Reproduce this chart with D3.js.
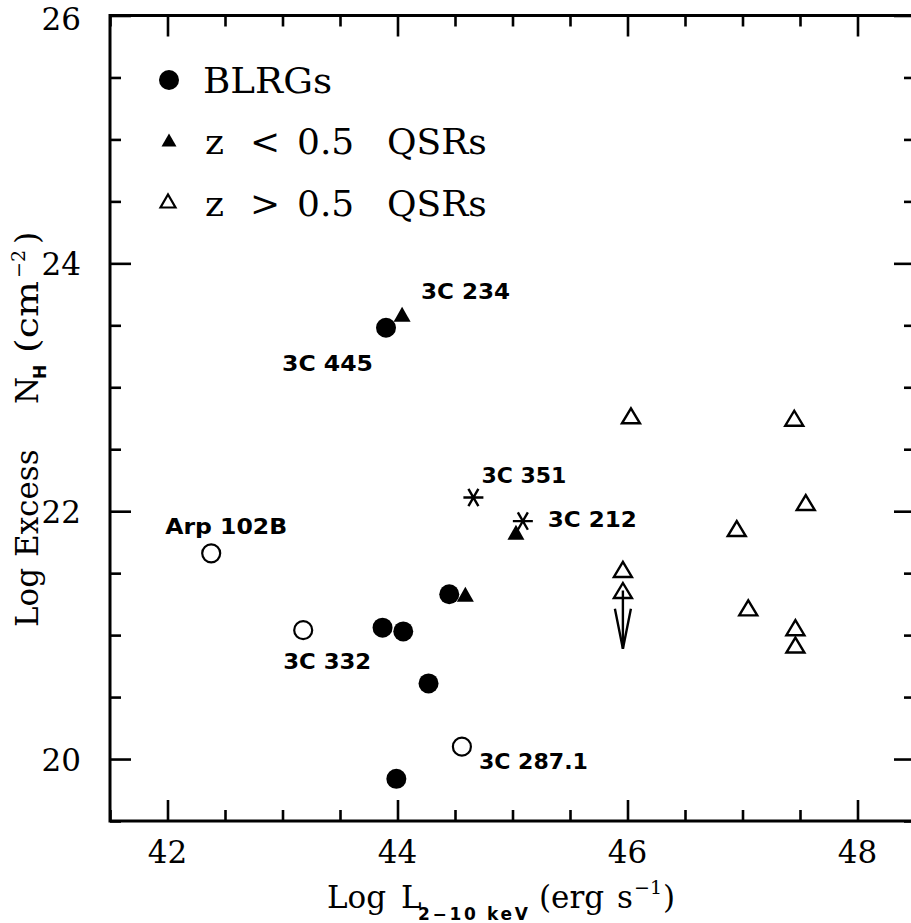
<!DOCTYPE html>
<html>
<head>
<meta charset="utf-8">
<script src="https://cdn.jsdelivr.net/npm/d3@7"></script>
<style>
  html, body { margin: 0; padding: 0; background: #fff; }
  svg { display: block; }
</style>
</head>
<body>
<div id="chart"></div>
<script>
// ---------------- data ----------------
const blrgX = [43.90, 43.87, 44.05, 44.45, 44.27, 43.99];
const blrgY = [23.48, 21.06, 21.03, 21.33, 20.61, 19.84];

const openCircleNames = ["Arp 102B", "3C 332", "3C 287.1"];
const openCircleX = [42.38, 43.18, 44.56];
const openCircleY = [21.66, 21.04, 20.10];

const qsrLowX = [44.04, 44.59, 45.03];
const qsrLowY = [23.59, 21.33, 21.83];

const starNames = ["3C 351", "3C 212"];
const starX = [44.66, 45.09];
const starY = [22.11, 21.92];

const qsrHighX = [46.03, 47.45, 47.55, 46.95, 45.96, 45.96, 47.05, 47.46, 47.46];
const qsrHighY = [22.77, 22.75, 22.07, 21.86, 21.53, 21.36, 21.22, 21.06, 20.92];

// upper limit arrow (from the z>0.5 QSR at index 5)
const limitX = [45.96];
const limitFrom = [21.36];
const limitTo = [20.89];

const xMajorTicks = [42, 44, 46, 48];
const yMajorTicks = [20, 22, 24, 26];

const legendLabels = ["BLRGs", "z < 0.5 QSRs", "z > 0.5 QSRs"];

// annotations: label text, anchor point, pixel offset of text start
const annotations = [
  {text: "3C 234",   x: qsrLowX[0],      y: qsrLowY[0],      dx: 19,   dy: -15},
  {text: "3C 445",   x: blrgX[0],        y: blrgY[0],        dx: -104, dy: 43},
  {text: "3C 351",   x: starX[0],        y: starY[0],        dx: 8,    dy: -15},
  {text: "3C 212",   x: starX[1],        y: starY[1],        dx: 25,   dy: 6},
  {text: "Arp 102B", x: openCircleX[0],  y: openCircleY[0],  dx: -46,  dy: -19},
  {text: "3C 332",   x: openCircleX[1],  y: openCircleY[1],  dx: -20,  dy: 39},
  {text: "3C 287.1", x: openCircleX[2],  y: openCircleY[2],  dx: 17,   dy: 22}
];
const annotationWidths = {"3C 234": 89, "3C 445": 91, "3C 351": 85, "3C 212": 89,
                          "Arp 102B": 122, "3C 332": 88, "3C 287.1": 109};

// ---------------- layout ----------------
const W = 911, H = 923;
const L = 110, R = 915, T = 15.5, B = 821;

const svg = d3.select("#chart").append("svg")
  .attr("width", W).attr("height", H)
  .attr("viewBox", `0 0 ${W} ${H}`);

const x = d3.scaleLinear().domain([41.5, 48.5]).range([L, R]);
const y = d3.scaleLinear().domain([19.5, 26]).range([B, T]);

const SERIF = "'DejaVu Serif', serif";
const SANSB = "'DejaVu Sans', sans-serif";

// frame
svg.append("rect").attr("x", L).attr("y", T)
  .attr("width", R - L).attr("height", B - T)
  .attr("fill", "none").attr("stroke", "#000").attr("stroke-width", 3);

// ticks via d3 axes (inward), on all four sides
const xMinor = d3.range(41.5, 48.51, 0.5).filter(v => !xMajorTicks.includes(v));
const yMinor = d3.range(19.5, 26.01, 0.5).filter(v => !yMajorTicks.includes(v));

function styleAxis(g) {
  g.select(".domain").remove();
  g.selectAll(".tick line").attr("stroke", "#000").attr("stroke-width", 2.6);
  g.selectAll(".tick text").remove();
}
// bottom
svg.append("g").attr("transform", `translate(0,${B})`)
  .call(d3.axisTop(x).tickValues(xMajorTicks).tickSize(21)).call(styleAxis);
svg.append("g").attr("transform", `translate(0,${B})`)
  .call(d3.axisTop(x).tickValues(xMinor).tickSize(11)).call(styleAxis);
// top
svg.append("g").attr("transform", `translate(0,${T})`)
  .call(d3.axisBottom(x).tickValues(xMajorTicks).tickSize(21)).call(styleAxis);
svg.append("g").attr("transform", `translate(0,${T})`)
  .call(d3.axisBottom(x).tickValues(xMinor).tickSize(11)).call(styleAxis);
// left
svg.append("g").attr("transform", `translate(${L},0)`)
  .call(d3.axisRight(y).tickValues(yMajorTicks).tickSize(21)).call(styleAxis);
svg.append("g").attr("transform", `translate(${L},0)`)
  .call(d3.axisRight(y).tickValues(yMinor).tickSize(11)).call(styleAxis);
// right
svg.append("g").attr("transform", `translate(${R},0)`)
  .call(d3.axisLeft(y).tickValues(yMajorTicks).tickSize(21)).call(styleAxis);
svg.append("g").attr("transform", `translate(${R},0)`)
  .call(d3.axisLeft(y).tickValues(yMinor).tickSize(11)).call(styleAxis);

// tick labels
svg.append("g").selectAll("text").data(xMajorTicks).join("text")
  .attr("x", d => x(d)).attr("y", 863)
  .attr("text-anchor", "middle")
  .attr("font-family", SERIF).attr("font-size", 31)
  .text(d => d);
svg.append("g").selectAll("text").data(yMajorTicks).join("text")
  .attr("x", 81).attr("y", d => Math.max(y(d) + 11.5, 30))
  .attr("text-anchor", "end")
  .attr("font-family", SERIF).attr("font-size", 31)
  .text(d => d);

// x axis title
const xt = svg.append("text").attr("font-family", SERIF).attr("font-size", 31);
xt.append("tspan").attr("x", 327).attr("y", 908).text("Log");
xt.append("tspan").attr("x", 401).attr("y", 908).text("L");
xt.append("tspan").attr("x", 418).attr("y", 920)
  .attr("font-family", SANSB).attr("font-weight", "bold").attr("font-size", 17)
  .attr("textLength", 110).attr("lengthAdjust", "spacing")
  .text("2\u221210 keV");
xt.append("tspan").attr("x", 539).attr("y", 908).text("(erg");
xt.append("tspan").attr("x", 617).attr("y", 908).text("s");
xt.append("tspan").attr("x", 634).attr("y", 894).attr("font-size", 19).text("\u22121");
xt.append("tspan").attr("x", 663).attr("y", 908).text(")");

// y axis title (rotated)
const yg = svg.append("g").attr("transform", "translate(38,0) rotate(-90)");
const yt = yg.append("text").attr("font-family", SERIF).attr("font-size", 31);
yt.append("tspan").attr("x", -627).attr("y", 0).text("Log");
yt.append("tspan").attr("x", -557).attr("y", 0).text("Excess");
yt.append("tspan").attr("x", -404).attr("y", 0).text("N");
yt.append("tspan").attr("x", -379).attr("y", 8)
  .attr("font-family", SANSB).attr("font-weight", "bold").attr("font-size", 17).text("H");
yt.append("tspan").attr("x", -353).attr("y", 0)
  .attr("textLength", 72).attr("lengthAdjust", "spacingAndGlyphs").text("(cm");
yt.append("tspan").attr("x", -278).attr("y", -13).attr("font-size", 19).text("\u22122");
yt.append("tspan").attr("x", -244).attr("y", 0).text(")");

// ---------------- symbols ----------------
function triPath(cx, cy, w, h) {
  return `M${cx - w / 2},${cy + h / 2} L${cx + w / 2},${cy + h / 2} L${cx},${cy - h / 2} Z`;
}
const pts = svg.append("g");

// z > 0.5 QSRs (open triangles)
pts.selectAll("path.qh").data(d3.range(qsrHighX.length)).join("path")
  .attr("class", "qh")
  .attr("d", i => triPath(x(qsrHighX[i]), y(qsrHighY[i]), 18, 15))
  .attr("fill", "none").attr("stroke", "#000").attr("stroke-width", 2.4)
  .attr("stroke-linejoin", "miter");

// upper-limit arrow
limitX.forEach((lx, i) => {
  const px = x(lx), y0 = y(limitFrom[i]), y1 = y(limitTo[i]);
  pts.append("line").attr("x1", px).attr("y1", y0).attr("x2", px).attr("y2", y1)
    .attr("stroke", "#000").attr("stroke-width", 2.4);
  pts.append("path")
    .attr("d", `M${px - 8},${y1 - 40} L${px},${y1} L${px + 8},${y1 - 40}`)
    .attr("fill", "none").attr("stroke", "#000").attr("stroke-width", 2.4);
});

// open circles
pts.selectAll("circle.oc").data(d3.range(openCircleX.length)).join("circle")
  .attr("class", "oc")
  .attr("cx", i => x(openCircleX[i])).attr("cy", i => y(openCircleY[i]))
  .attr("r", 9).attr("fill", "none").attr("stroke", "#000").attr("stroke-width", 2.2);

// BLRGs filled circles
pts.selectAll("circle.bl").data(d3.range(blrgX.length)).join("circle")
  .attr("class", "bl")
  .attr("cx", i => x(blrgX[i])).attr("cy", i => y(blrgY[i]))
  .attr("r", 10).attr("fill", "#000");

// z < 0.5 QSRs (filled triangles)
pts.selectAll("path.ql").data(d3.range(qsrLowX.length)).join("path")
  .attr("class", "ql")
  .attr("d", i => triPath(x(qsrLowX[i]), y(qsrLowY[i]), 17, 15))
  .attr("fill", "#000");

// asterisks
function starPath(cx, cy, r) {
  let p = `M${cx - r},${cy} L${cx + r},${cy}`;
  [60, 120].forEach(a => {
    const dx = r * Math.cos(a * Math.PI / 180), dy = r * Math.sin(a * Math.PI / 180);
    p += ` M${cx - dx},${cy - dy} L${cx + dx},${cy + dy}`;
  });
  return p;
}
pts.selectAll("path.st").data(d3.range(starX.length)).join("path")
  .attr("class", "st")
  .attr("d", i => starPath(x(starX[i]), y(starY[i]), 10))
  .attr("fill", "none").attr("stroke", "#000").attr("stroke-width", 2.4);

// annotations
svg.append("g").selectAll("text").data(annotations).join("text")
  .attr("x", d => x(d.x) + d.dx).attr("y", d => y(d.y) + d.dy)
  .attr("font-family", SANSB).attr("font-weight", "bold").attr("font-size", 22)
  .attr("textLength", d => annotationWidths[d.text]).attr("lengthAdjust", "spacingAndGlyphs")
  .style("white-space", "pre")
  .text(d => d.text);

// ---------------- legend ----------------
const lg = svg.append("g");
lg.append("circle").attr("cx", 169).attr("cy", 80).attr("r", 10).attr("fill", "#000");
lg.append("path").attr("d", triPath(169, 140, 15, 13)).attr("fill", "#000");
lg.append("path").attr("d", triPath(168, 201, 15, 13))
  .attr("fill", "none").attr("stroke", "#000").attr("stroke-width", 2.2);

lg.append("text").attr("x", 203).attr("y", 93)
  .attr("font-family", SERIF).attr("font-size", 36)
  .attr("textLength", 129).attr("lengthAdjust", "spacingAndGlyphs")
  .text(legendLabels[0]);

[1, 2].forEach((k, j) => {
  const parts = legendLabels[k].split(" ");
  const xs = [205, 250, 297, 387];
  const by = 154 + j * 62;
  const t = lg.append("text").attr("font-family", SERIF).attr("font-size", 36);
  parts.forEach((p, i) => {
    t.append("tspan").attr("x", xs[i]).attr("y", by).text(p);
  });
});
</script>
</body>
</html>
